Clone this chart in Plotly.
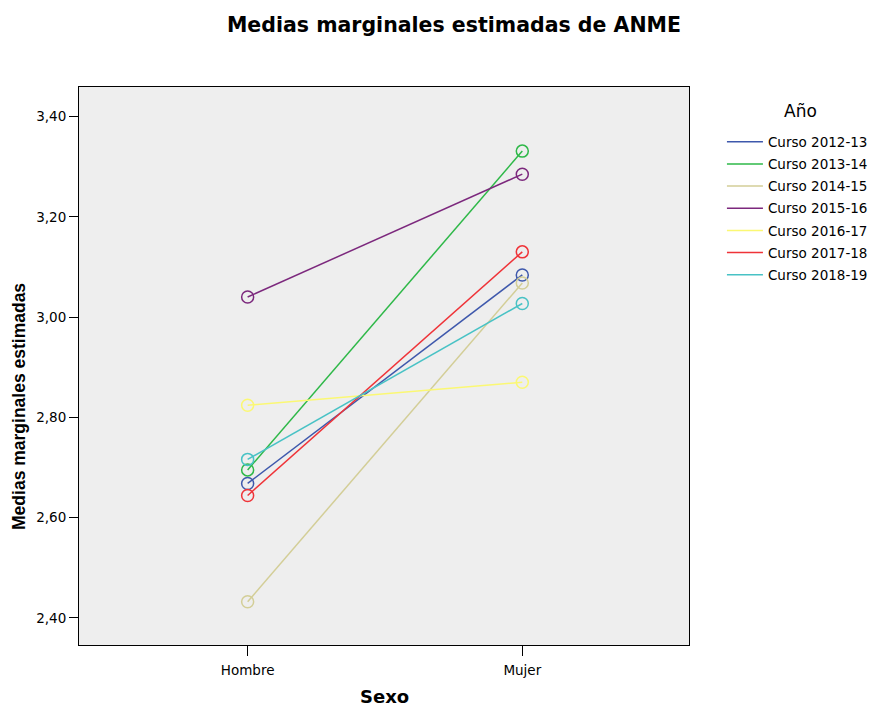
import plotly.graph_objects as go

sexo = ["Hombre", "Mujer"]
series_names = ["Curso 2012-13", "Curso 2013-14", "Curso 2014-15", "Curso 2015-16",
                "Curso 2016-17", "Curso 2017-18", "Curso 2018-19"]
hombre_vals = [2.668, 2.695, 2.432, 3.040, 2.824, 2.644, 2.716]
mujer_vals = [3.084, 3.331, 3.068, 3.285, 2.870, 3.130, 3.027]
colors = ["#3E58AC", "#2EB848", "#D3CE97", "#7C287D", "#FBF873", "#EF3338", "#48C2C5"]
y_ticks = [2.4, 2.6, 2.8, 3.0, 3.2, 3.4]

SMALL = "DejaVu Sans, Liberation Sans, sans-serif"

fig = go.Figure()
for name, h, m, c in zip(series_names, hombre_vals, mujer_vals, colors):
    fig.add_trace(go.Scatter(x=sexo, y=[h, m], mode="lines", name=name, legendgroup=name,
                             line=dict(color=c, width=1.5)))
for name, h, m, c in zip(series_names, hombre_vals, mujer_vals, colors):
    fig.add_trace(go.Scatter(x=sexo, y=[h, m], mode="markers", name=name, legendgroup=name,
                             showlegend=False,
                             marker=dict(symbol="circle-open", size=12, color=c,
                                         line=dict(color=c, width=1.5))))

# axis titles and legend title as annotations
fig.add_annotation(text="<b>Medias marginales estimadas</b>", textangle=-90,
                   xref="paper", yref="paper", x=-0.098, y=0.427,
                   xanchor="center", yanchor="middle", showarrow=False,
                   font=dict(size=17.5, family="Liberation Sans, Arial, sans-serif", color="black"))
fig.add_annotation(text="<b>Sexo</b>", xref="paper", yref="paper", x=0.5, y=-0.093,
                   xanchor="center", yanchor="middle", showarrow=False,
                   font=dict(size=18, family=SMALL, color="black"))
fig.add_annotation(text="Año", xref="paper", yref="paper", x=1.182, y=0.957,
                   xanchor="center", yanchor="middle", showarrow=False,
                   font=dict(size=17, family=SMALL, color="black"))

fig.update_layout(
    width=868, height=698,
    margin=dict(l=71, r=187, t=79, b=61, autoexpand=False),
    paper_bgcolor="white",
    plot_bgcolor="#EEEEEE",
    separators=",.",
    font=dict(family=SMALL, color="black"),
    title=dict(text="<b>Medias marginales estimadas de ANME</b>", x=0.5138, xanchor="center",
               y=0.9756, yanchor="middle",
               font=dict(size=20.5, family=SMALL)),
    showlegend=True,
    legend=dict(x=1.054, y=0.9292, xanchor="left", yanchor="top", tracegroupgap=1.6,
                itemwidth=36, font=dict(size=13.5), bgcolor="rgba(0,0,0,0)"),
    xaxis=dict(type="category", range=[-0.614, 1.607], showline=True, mirror=True,
               linecolor="black", linewidth=1, ticks="outside", ticklen=10, tickcolor="black",
               showgrid=False, zeroline=False, tickfont=dict(size=13.5), automargin=False,
               ticklabelstandoff=3),
    yaxis=dict(range=[2.3457, 3.4589], tickvals=y_ticks, tickformat=".2f", showline=True,
               mirror=True, linecolor="black", linewidth=1, ticks="outside", ticklen=9,
               tickcolor="black", showgrid=False, zeroline=False, tickfont=dict(size=13.5),
               automargin=False),
)

fig.write_html("out.html")
